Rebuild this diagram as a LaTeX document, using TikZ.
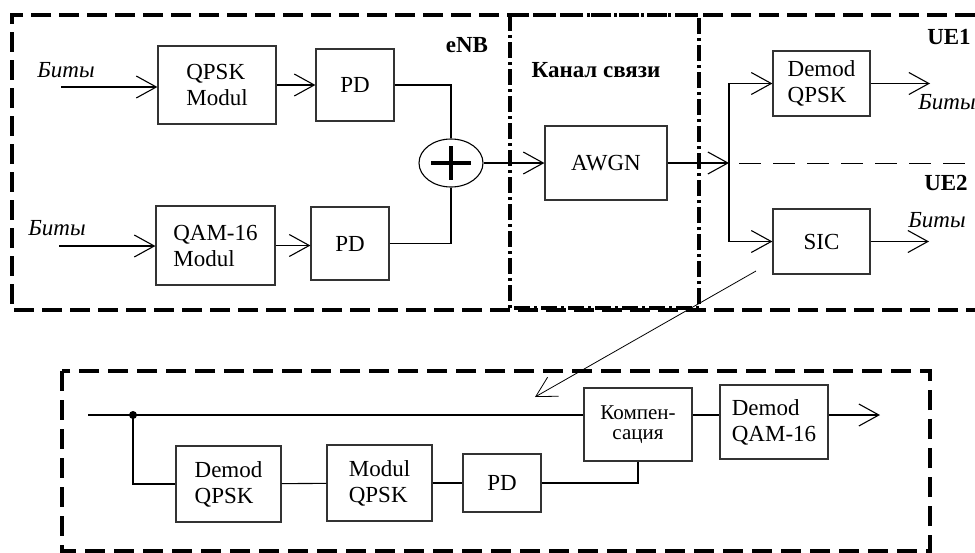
\documentclass[tikz,border=0pt]{standalone}
\usepackage{fontspec}
\setmainfont{Liberation Serif}
\usetikzlibrary{arrows.meta,shapes.geometric}
\begin{document}
\begin{tikzpicture}[x=1pt,y=-1pt,line width=1.1pt,
  blk/.style={draw=black!80,line width=1.2pt,align=left,inner sep=0pt,font=\fontsize{23}{26}\selectfont},
  arr/.style={-{Straight Barb[length=20pt,width=22pt]}},
  lab/.style={font=\fontsize{23}{26}\selectfont\itshape},
  hdr/.style={font=\fontsize{23}{26}\selectfont\bfseries},
  frm/.style={line width=3.5pt,dash pattern=on 20pt off 8pt}]
\useasboundingbox (0,0) rectangle (975,552);
\draw[frm] (975,15) -| (12,310) -- (975,310);
\draw[line width=3.5pt,dash pattern=on 16pt off 4pt on 3pt off 4pt] (510,15) rectangle (699,308);
\draw[frm,dash pattern=on 20pt off 9pt] (62,371) rectangle (930,551);
\node[blk,minimum width=118pt,minimum height=78pt] (qpskmod) at (217,85) {QPSK\\Modul};
\node[blk,minimum width=78pt,minimum height=72pt] (pd1) at (355,85) {PD};
\node[blk,minimum width=119pt,minimum height=79pt] (qammod) at (215.5,245.5) {QAM-16\\Modul};
\node[blk,minimum width=78pt,minimum height=73pt] (pd2) at (350,243.5) {PD};
\node[draw,ellipse,minimum width=64pt,minimum height=48pt,inner sep=0pt] (sum) at (451,163) {};
\draw[line width=4pt] (sum.center) ++(-20,0) -- ++(40,0) (sum.center) ++(0,-17) -- ++(0,34);
\node[blk,minimum width=122pt,minimum height=74pt] (awgn) at (606,163) {AWGN};
\node[blk,minimum width=97pt,minimum height=65pt] (dqpsk) at (821.5,83.5) {Demod\\QPSK};
\node[blk,minimum width=97pt,minimum height=65pt] (sic) at (821.5,241.5) {SIC};
\node[blk,minimum width=105pt,minimum height=76pt] (ddqpsk) at (228.5,484) {Demod\\QPSK};
\node[blk,minimum width=105pt,minimum height=76pt] (mqpsk) at (379.5,483) {Modul\\QPSK};
\node[blk,minimum width=78pt,minimum height=58pt] (pd3) at (502,483) {PD};
\node[blk,minimum width=108pt,minimum height=73pt,align=center,font=\fontsize{21}{20}\selectfont] (komp) at (638,424.5) {Компен-\\сация};
\node[blk,minimum width=108pt,minimum height=74pt] (dqam) at (774,422) {Demod\\QAM-16};
\node[lab] (bits1) at (66,70) {Биты};
\node[lab] (bits2) at (57,228) {Биты};
\node[lab] (bits3) at (947,102) {Биты};
\node[lab] (bits4) at (937,220) {Биты};
\node[hdr] (enb) at (467,45) {eNB};
\node[hdr] (chan) at (596,70) {Канал связи};
\node[hdr] (ue1) at (949,37) {UE1};
\node[hdr] (ue2) at (946,183) {UE2};
\coordinate (in1) at (61,87);
\coordinate (in2) at (59,246);
\coordinate (split) at (729,163);
\coordinate (out1) at (930,83.5);
\coordinate (out2) at (929,241.5);
\coordinate (zfrom) at (756,271);
\coordinate (zto) at (535,397);
\coordinate (in3) at (88,415);
\coordinate (tap) at (133,415);
\coordinate (out3) at (880,415);
\draw[arr] (in1) -- (in1 -| qpskmod.west);
\draw[arr] (in2) -- (in2 -| qammod.west);
\draw[arr] (qpskmod) -- (pd1);
\draw[arr] (qammod.east) -- (qammod.east -| pd2.west);
\draw (pd1.east) -| (sum.north);
\draw (pd2.east) -| (sum.south);
\draw[arr] (sum) -- (awgn);
\draw[arr] (awgn) -- (split);
\draw[arr] (split) |- (dqpsk.west);
\draw[arr] (split) |- (sic.west);
\draw[arr] (dqpsk) -- (out1);
\draw[arr] (sic) -- (out2);
\draw[line width=0.9pt,dash pattern=on 22pt off 12pt] (739,163) -- (975,163);
\draw[arr,line width=0.8pt] (zfrom) -- (zto);
\draw (in3) -- (in3 -| komp.west);
\draw (in3 -| komp.east) -- (in3 -| dqam.west);
\draw[arr] (in3 -| dqam.east) -- (out3);
\fill (tap) circle (4);
\draw (tap) |- (ddqpsk.west);
\draw (ddqpsk) -- (mqpsk);
\draw (mqpsk) -- (pd3);
\draw (pd3.east) -| (komp.south);
\end{tikzpicture}
\end{document}
